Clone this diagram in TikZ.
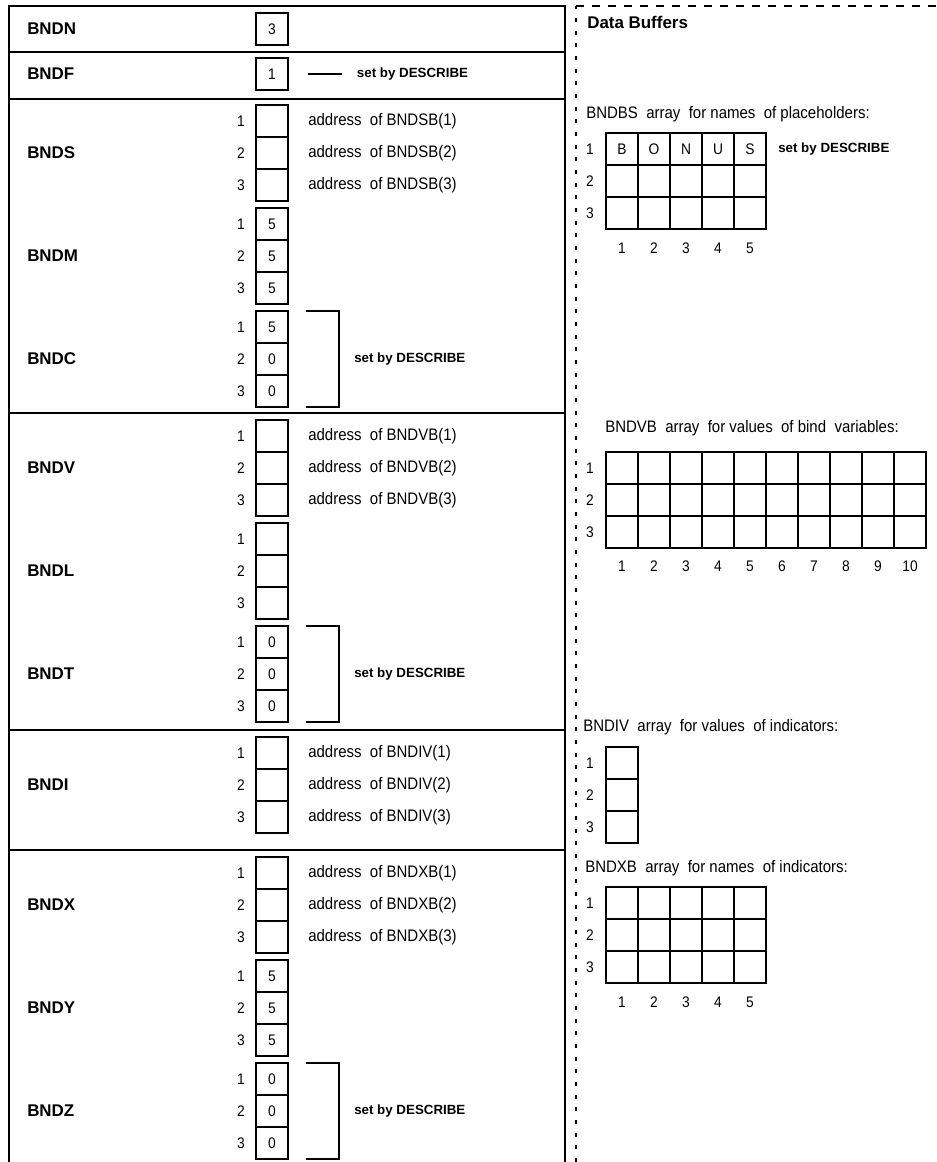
\documentclass[tikz,border=0pt]{standalone}
\usepackage{fontspec}
\setmainfont{Liberation Sans}
\newfontfamily\narrowfont[FakeStretch=0.9]{Liberation Sans}
\usetikzlibrary{calc, positioning}

\tikzset{
    lbl/.style={font=\bfseries\fontsize{12.7}{15}\selectfont, anchor=west, inner sep=0pt},
    setby/.style={font=\bfseries\fontsize{10}{12}\selectfont, anchor=west, inner sep=0pt},
    txt/.style={font=\narrowfont\fontsize{12.5}{15}\selectfont, anchor=west, inner sep=0pt},
    idx/.style={font=\narrowfont\fontsize{11.5}{14}\selectfont, inner sep=0pt},
    cell/.style={draw, line width=0.8pt, minimum width=24pt, minimum height=24pt, inner sep=0pt, outer sep=0pt},
    frame/.style={line width=1pt},
    brk/.style={line width=0.8pt},
    bufv/.style={line width=0.8pt, dash pattern=on 3pt off 6.5pt},
    bufh/.style={line width=0.8pt, dash pattern=on 6pt off 6pt}
}

\begin{document}
\begin{tikzpicture}[x=0.75pt, y=-0.75pt]
    \useasboundingbox (0,0) rectangle (937,1162);

    % bind descriptor frame
    \draw[frame] (9,1162) -- (9,6) -- (565,6) -- (565,1162);
    \foreach \yy in {52, 99, 413, 850}
        \draw[frame] (9,\yy) -- (565,\yy);
    \draw[line width=1.8pt] (9,730) -- (565,730);

    % data buffers border
    \draw[bufv] (576,1162) -- (576,6);
    \draw[bufh] (576,6) -- (937,6);

    % single fields
    \node[lbl] (BNDN) at (27,29) {BNDN};
    \node[cell] (N) at (272,29) {};
    \node[idx] (vN) at (N) {3};

    \node[lbl] (BNDF) at (27,74) {BNDF};
    \node[cell] (F) at (272,74) {};
    \node[idx] (vF) at (F) {1};
    \coordinate (f1) at ($(F.east)+(20,0)$);
    \coordinate (f2) at ($(f1)+(34,0)$);
    \draw[brk] (f1) -- (f2);
    \node[setby, right=11pt of f2] (dF) {set by DESCRIBE};

    % array fields, three entries each
    \foreach \g/\ty in {S/105, M/208, C/311, V/420, L/523, T/626, I/737, X/857, Y/960, Z/1063} {
        \node[lbl] (BND\g) at (27,\ty+48) {BND\g};
        \foreach \i in {1,2,3} {
            \node[cell] (\g-\i) at (272,\ty+32*\i-16) {};
            \node[idx] (\g n\i) at (241,\ty+32*\i-16) {\i};
        }
    }

    % values
    \foreach \g/\i/\v in {M/1/5, M/2/5, M/3/5, C/1/5, C/2/0, C/3/0, T/1/0, T/2/0, T/3/0,
                          Y/1/5, Y/2/5, Y/3/5, Z/1/0, Z/2/0, Z/3/0}
        \node[idx] (v\g\i) at (\g-\i) {\v};

    % addresses
    \foreach \g/\b in {S/BNDSB, V/BNDVB, I/BNDIV, X/BNDXB}
        \foreach \i in {1,2,3}
            \node[txt, right=15pt of \g-\i] (a\g\i) {address~~of \b(\i)};

    % brackets
    \foreach \g in {C, T, Z} {
        \coordinate (\g b1) at ($(\g-1.north east)+(18,0)$);
        \coordinate (\g b2) at ($(\g-3.south east)+(18,0)$);
        \draw[brk] (\g b1) -- ++(33,0) |- (\g b2);
        \node[setby] (d\g) at ($(\g-2.east)+(66,0)$) {set by DESCRIBE};
    }

    % data buffers
    \node[lbl] (dbuf) at (587,22) {Data Buffers};

    % BNDBS
    \node[txt] (tBS) at (586,114) {BNDBS~~array~~for names~~of placeholders:};
    \foreach \r in {1,2,3} {
        \node[idx] (BSr\r) at (590,133+32*\r-16) {\r};
        \foreach \c in {1,...,5}
            \node[cell] (BS-\r-\c) at (606+32*\c-16,133+32*\r-16) {};
    }
    \foreach \c/\l in {1/B, 2/O, 3/N, 4/U, 5/S}
        \node[idx] (BSl\c) at (BS-1-\c) {\l};
    \foreach \c in {1,...,5}
        \node[idx] (BSc\c) at (606+32*\c-16,248) {\c};
    \node[setby] (dBS) at (778,149) {set by DESCRIBE};

    % BNDVB
    \node[txt] (tVB) at (605,428) {BNDVB~~array~~for values~~of bind~~variables:};
    \foreach \r in {1,2,3} {
        \node[idx] (VBr\r) at (590,452+32*\r-16) {\r};
        \foreach \c in {1,...,10}
            \node[cell] (VB-\r-\c) at (606+32*\c-16,452+32*\r-16) {};
    }
    \foreach \c in {1,...,10}
        \node[idx] (VBc\c) at (606+32*\c-16,566) {\c};

    % BNDIV
    \node[txt] (tIV) at (583,727) {BNDIV~~array~~for values~~of indicators:};
    \foreach \r in {1,2,3} {
        \node[idx] (IVr\r) at (590,747+32*\r-16) {\r};
        \node[cell] (IV-\r) at (622,747+32*\r-16) {};
    }

    % BNDXB
    \node[txt] (tXB) at (585,868) {BNDXB~~array~~for names~~of indicators:};
    \foreach \r in {1,2,3} {
        \node[idx] (XBr\r) at (590,887+32*\r-16) {\r};
        \foreach \c in {1,...,5}
            \node[cell] (XB-\r-\c) at (606+32*\c-16,887+32*\r-16) {};
    }
    \foreach \c in {1,...,5}
        \node[idx] (XBc\c) at (606+32*\c-16,1002) {\c};

\end{tikzpicture}
\end{document}
